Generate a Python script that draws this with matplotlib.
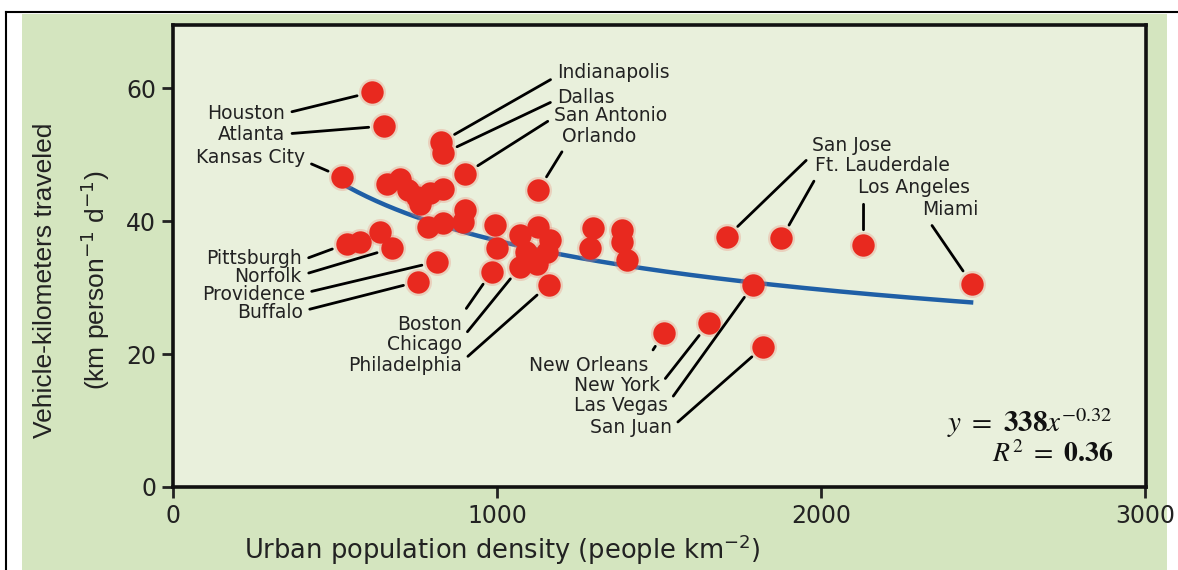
import numpy as np
import matplotlib
matplotlib.use('Agg')
import matplotlib.pyplot as plt
from matplotlib.patches import Rectangle
from matplotlib.lines import Line2D

# labelled cities: urban density (people per km2) and vehicle-km per person per day
cities = ['Houston', 'Atlanta', 'Kansas City', 'Indianapolis', 'Dallas', 'San Antonio',
          'Orlando', 'Pittsburgh', 'Norfolk', 'Providence', 'Buffalo', 'Boston',
          'Chicago', 'Philadelphia', 'San Jose', 'Ft. Lauderdale', 'Los Angeles',
          'Miami', 'New Orleans', 'New York', 'Las Vegas', 'San Juan']
city_density = [614, 651, 522, 828, 834, 901,
                1128, 536, 675, 814, 757, 984,
                1071, 1159, 1709, 1878, 2131,
                2465, 1514, 1653, 1791, 1822]
city_vkt = [59.4, 54.3, 46.6, 51.9, 50.2, 47.1,
            44.7, 36.6, 35.9, 33.9, 30.9, 32.4,
            33.1, 30.4, 37.6, 37.4, 36.4,
            30.6, 23.1, 24.6, 30.4, 21.1]

# the rest of the cities (no label)
other_density = [659, 701, 726, 752, 762, 793, 834, 901, 895, 788, 834, 994,
                 1071, 1128, 1164, 999, 1091, 1153, 1123, 577, 639,
                 1297, 1287, 1385, 1385, 1400]
other_vkt = [45.6, 46.4, 44.7, 43.7, 42.6, 44.2, 44.9, 41.7, 39.8, 39.1, 39.7, 39.4,
             37.9, 39.1, 37.1, 35.9, 35.4, 35.4, 33.6, 36.9, 38.4,
             38.9, 35.9, 38.6, 36.9, 34.1]

# power-law fit y = a * x^b
fit_a = 338
fit_b = -0.32
fit_r2 = 0.36
fit_start, fit_end = 520, 2470

xticks = [0, 1000, 2000, 3000]
yticks = [0, 20, 40, 60]

# where each city name goes: text x, text y, alignment, leader start on the text box
label_layout = {
    'Houston':        (346, 56.2, 'right', (1.0, 0.5)),
    'Atlanta':        (346, 53.1, 'right', (1.0, 0.5)),
    'Kansas City':    (407, 49.6, 'right', (1.0, 0.3)),
    'Pittsburgh':     (398, 34.4, 'right', (1.0, 0.4)),
    'Norfolk':        (398, 31.6, 'right', (1.0, 0.6)),
    'Providence':     (407, 28.9, 'right', (1.0, 0.6)),
    'Buffalo':        (401, 26.2, 'right', (1.0, 0.6)),
    'Boston':         (892, 24.5, 'right', (1.0, 1.0)),
    'Chicago':        (892, 21.5, 'right', (1.0, 0.8)),
    'Philadelphia':   (892, 18.3, 'right', (1.0, 0.7)),
    'Indianapolis':   (1185, 62.4, 'left', (0.0, 0.3)),
    'Dallas':         (1185, 58.6, 'left', (0.0, 0.4)),
    'San Antonio':    (1176, 55.9, 'left', (0.0, 0.4)),
    'Orlando':        (1201, 52.8, 'left', (0.05, 0.0)),
    'San Jose':       (1972, 51.4, 'left', (0.0, 0.0)),
    'Ft. Lauderdale': (1981, 48.4, 'left', (0.02, 0.0)),
    'Los Angeles':    (2114, 45.0, 'left', (0.05, 0.0)),
    'Miami':          (2312, 41.7, 'left', (0.1, 0.0)),
    'New Orleans':    (1466, 18.3, 'right', (1.0, 0.9)),
    'New York':       (1503, 15.3, 'right', (1.0, 0.5)),
    'Las Vegas':      (1528, 12.3, 'right', (1.0, 0.6)),
    'San Juan':       (1540, 9.0, 'right', (1.0, 0.5)),
}

W, H = 1178, 570
fig = plt.figure(figsize=(W / 100, H / 100), dpi=100)
fig.patch.set_facecolor('white')

# green panel and the thin frame lines round it
fig.patches.append(Rectangle((22 / W, 0), (1167 - 22) / W, 1 - 14 / H,
                             transform=fig.transFigure, facecolor='#d4e5bf',
                             edgecolor='none', zorder=-5))
fig.lines.append(Line2D([6 / W, 1], [1 - 12 / H, 1 - 12 / H], transform=fig.transFigure,
                        color='black', lw=1.5, zorder=-4))
fig.lines.append(Line2D([6 / W, 6 / W], [0, 1 - 12 / H], transform=fig.transFigure,
                        color='black', lw=1.5, zorder=-4))

ax = fig.add_axes([173 / W, 1 - 487 / H, (1146 - 173) / W, (487 - 25) / H])
ax.set_zorder(1)
ax.set_facecolor('#e9f0dc')
ax.set_xlim(0, 3003)
ax.set_ylim(0, 69.5)
for s in ax.spines.values():
    s.set_linewidth(2.6)
    s.set_color('#111111')
ax.set_xticks(xticks)
ax.set_yticks(yticks)
ax.tick_params(direction='out', length=8, width=2, labelsize=17, pad=4, colors='#222222')

# fitted curve
xf = np.linspace(fit_start, fit_end, 200)
ax.plot(xf, fit_a * xf ** fit_b, color='#1f5fa6', lw=3.2, zorder=2,
        solid_capstyle='butt')

# dots with a soft rim
all_x = city_density + other_density
all_y = city_vkt + other_vkt
ax.scatter(all_x, all_y, s=380, color='#ec8a78', alpha=0.3, linewidths=0, zorder=3)
ax.scatter(all_x, all_y, s=260, color='#e8291f', linewidths=0, zorder=4)

# city names with leader lines
for name, cx, cy in zip(cities, city_density, city_vkt):
    tx, ty, ha, rp = label_layout[name]
    ax.annotate(name, xy=(cx, cy), xytext=(tx, ty), ha=ha, va='center',
                fontsize=13.5, color='#222222', zorder=5,
                arrowprops=dict(arrowstyle='-', color='black', lw=2,
                                shrinkA=3, shrinkB=11, relpos=rp))

# fit equation
ax.text(0.966, 0.138, r'$y\ =\ \mathbf{338}x^{-0.32}$', transform=ax.transAxes,
        ha='right', va='center', fontsize=21, color='#111111', math_fontfamily='stix')
ax.text(0.966, 0.072, r'$R^2\ =\ \mathbf{%.2f}$' % fit_r2, transform=ax.transAxes,
        ha='right', va='center', fontsize=20, color='#111111', math_fontfamily='stix')

# axis titles
fig.text(45 / W, 1 - 280 / H, 'Vehicle-kilometers traveled', rotation=90,
         ha='center', va='center', fontsize=19, family='Liberation Sans', color='#222222')
fig.text(95 / W, 1 - 280 / H, r'(km person$^{-1}$ d$^{-1}$)', rotation=90,
         ha='center', va='center', fontsize=19, family='Liberation Sans', color='#222222')
fig.text(502 / W, 1 - 550 / H, r'Urban population density (people km$^{-2}$)',
         ha='center', va='center', fontsize=18.5, color='#222222')

fig.savefig('out.png', dpi=100)
